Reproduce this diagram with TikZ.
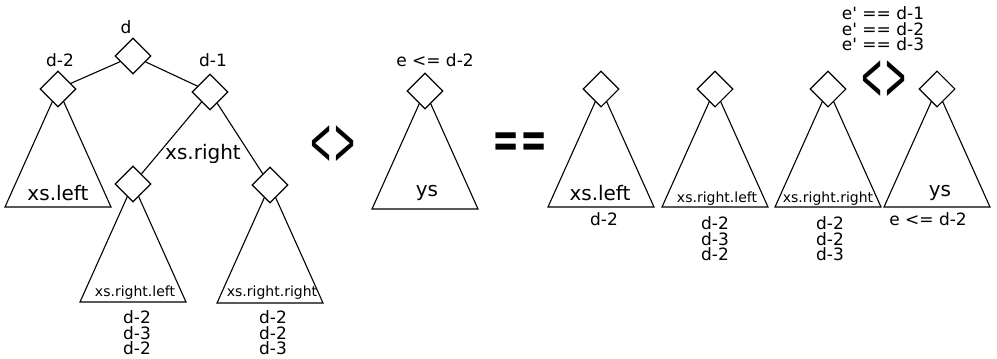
\documentclass[tikz,border=0pt]{standalone}
\usepackage{fontspec}
\setmainfont{DejaVu Sans}
\usepackage{graphicx}
\usetikzlibrary{positioning,shapes.geometric,backgrounds}

\tikzset{
  knot/.style={draw, diamond, fill=white, minimum size=36pt, inner sep=0pt, line width=1.1pt},
  tri/.style={draw, line width=1.1pt, line join=miter},
  lbl/.style={font=\fontsize{17}{15.5}\selectfont, align=center, inner sep=0pt},
  big/.style={font=\fontsize{20}{24}\selectfont, inner sep=0pt},
  small/.style={font=\fontsize{14}{16}\selectfont, inner sep=0pt},
  op/.style={font=\bfseries\fontsize{27}{30}\selectfont, inner sep=0pt},
  neq/.style={font=\fontsize{29}{30}\selectfont, inner sep=0pt}
}
% triangle hanging below a diamond
\newcommand{\subtree}[1]{\draw[tri] (#1.center) -- ++(-53,118) -- ++(106,0) -- cycle;}

\begin{document}
\begin{tikzpicture}[x=1pt, y=-1pt]
\useasboundingbox (0,0) rectangle (997,359);

% left tree xs
\node[knot] (r) at (133,56) {};
\node[knot] (l) at (58,89) {};
\node[knot] (rt) at (210,92) {};
\node[knot] (rl) at (133,184) {};
\node[knot] (rr) at (270,185) {};
\begin{scope}[on background layer]
\subtree{l}
\subtree{rl}
\subtree{rr}
\end{scope}
\draw[tri] (r) -- (l);
\draw[tri] (r) -- (rt);
\draw[tri] (rt) -- (rl);
\draw[tri] (rt) -- (rr);

\node[lbl] (rlab) at (126,27) {d};
\node[lbl] (llab) at (60,60) {d-2};
\node[lbl] (rtlab) at (213,60) {d-1};
\node[big] (xright) at (203,154) {xs.right};
\node[big] (xleft) at (58,193) {xs.left};
\node[small] (xrl) at (135,293) {xs.right.left};
\node[small] (xrr) at (272,293) {xs.right.right};
\node[lbl] (rlh) at (137,333) {d-2\\d-3\\d-2};
\node[lbl] (rrh) at (273,333) {d-2\\d-2\\d-3};

\node[neq] (ne1) at (333,145) {\scalebox{0.95}[2.3]{<>}};

% ys
\node[knot] (y) at (425,91) {};
\begin{scope}[on background layer]
\subtree{y}
\end{scope}
\node[lbl] (ylab) at (435,60) {e <= d-2};
\node[big] (ys) at (427,193) {ys};

\node[op] (eq) at (520,145) {\scalebox{1.2}[1.9]{==}};

% flattened
\node[knot] (f1) at (601,89) {};
\node[knot] (f2) at (715,89) {};
\node[knot] (f3) at (828,89) {};
\node[knot] (f4) at (937,89) {};
\begin{scope}[on background layer]
\subtree{f1}
\subtree{f2}
\subtree{f3}
\subtree{f4}
\end{scope}
\node[big] (f1t) at (600,193) {xs.left};
\node[small] (f2t) at (717,199) {xs.right.left};
\node[small] (f3t) at (828,199) {xs.right.right};
\node[big] (f4t) at (940,193) {ys};
\node[lbl] (f1h) at (604,219) {d-2};
\node[lbl] (f2h) at (715,239) {d-2\\d-3\\d-2};
\node[lbl] (f3h) at (830,239) {d-2\\d-2\\d-3};
\node[lbl] (f4h) at (928,219) {e <= d-2};

\node[neq] (ne2) at (884,80) {\scalebox{0.95}[2.3]{<>}};
\node[lbl] (elab) at (883,29) {e\textquotesingle{} == d-1\\e\textquotesingle{} == d-2\\e\textquotesingle{} == d-3};
\end{tikzpicture}
\end{document}
